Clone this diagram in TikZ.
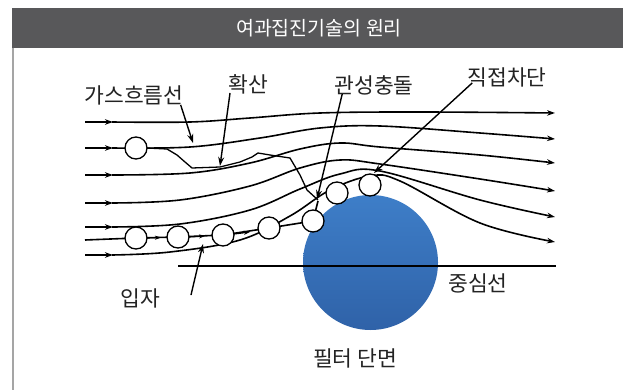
\documentclass[tikz,border=0pt]{standalone}
\usepackage{fontspec}
\newfontfamily\kr{Noto Sans CJK KR}
\usetikzlibrary{arrows.meta}
\definecolor{barfill}{RGB}{88,88,90}
\definecolor{rimgray}{RGB}{165,165,165}
\definecolor{cyltop}{RGB}{62,126,200}
\definecolor{cylbot}{RGB}{47,98,168}
\definecolor{inkgray}{RGB}{35,35,35}
\begin{document}
\begin{tikzpicture}[x=1pt,y=-1pt,
  flow/.style={line width=1.6pt, black, line join=round},
  flowend/.style={flow, -{Stealth[length=8pt,width=5.5pt]}},
  midtip/.style={line width=1.6pt, -{Stealth[length=8pt,width=5.5pt]}},
  smalltip/.style={line width=1.2pt, -{Stealth[length=6pt,width=4pt]}},
  pointer/.style={line width=1.4pt, black, -{Stealth[length=9pt,width=6pt]}},
  particle/.style={circle, draw=black, fill=white, line width=1.3pt, minimum size=22pt, inner sep=0pt},
  lbl/.style={text=inkgray, font=\kr\fontsize{21.5}{21.5}\selectfont, inner sep=1pt},
]
\useasboundingbox (0,0) rectangle (623,390);
\fill[white] (0,0) rectangle (623,390);

% header bar and frame
\fill[barfill] (12,8) rectangle (623,48);
\node[text=white, font=\kr\fontsize{19.5}{19.5}\selectfont] (title) at (319,28) {여과집진기술의 원리};
\draw[rimgray, line width=1.5pt] (13,48) -- (13,390);

% filter fibre cross-section and centre line
\shade[top color=cyltop, bottom color=cylbot] (370.5,262.5) circle[radius=67.5pt];
\draw[line width=1.1pt] (178,266) -- (556,266);

% gas streamlines
\foreach \yy in {122,148,175,203,227,255}
  \draw[midtip] (85,\yy) -- (113,\yy);
\draw[flowend] plot[smooth, tension=0.6] coordinates
  {(112,122) (190,122) (250,118) (320,113) (420,112) (555,113)};
\draw[flowend] plot[smooth, tension=0.6] coordinates
  {(112,148) (190,147) (260,138) (320,128) (380,126) (480,133) (555,139)};
\draw[flowend] plot[smooth, tension=0.6] coordinates
  {(112,175) (190,173) (250,163) (300,149) (340,143) (380,147) (480,155) (555,163)};
\draw[flowend] plot[smooth, tension=0.6] coordinates
  {(112,203) (180,200) (250,186) (300,168) (340,160) (380,164) (480,179) (555,191)};
\draw[flowend] plot[smooth, tension=0.6] coordinates
  {(112,227) (180,224) (250,210) (300,189) (340,174) (380,171) (480,200) (555,217)};
\draw[flowend] plot[smooth, tension=0.6] coordinates
  {(112,255) (170,252) (240,240) (290,216) (330,190) (370,176) (400,181) (480,223) (555,242)};

% particle path (inertial impaction)
\draw[flow] (85,240) -- (136,238) -- (178,237) -- (223,235) -- (269,228) -- (313,221) -- (318,201);
\draw[smalltip] (147,238) -- (161,237.5);
\draw[smalltip] (189,237) -- (205,236);
\draw[smalltip] (234,234) -- (250,232);

% diffusion path
\draw[line width=1.3pt, line join=round] (147,148) -- (167,149) -- (177,155) -- (185,162) -- (192,168)
  -- (220,167) -- (240,162) -- (252,157) -- (258,153) -- (270,155) -- (290,158)
  -- (300,175) -- (307,190) -- (318,200);

% particles
\node[particle] (pd) at (136,148) {};
\node[particle] (p1) at (136,238) {};
\node[particle] (p2) at (178,237) {};
\node[particle] (p3) at (223,235) {};
\node[particle] (p4) at (269,228) {};
\node[particle] (p5) at (313,221) {};
\node[particle] (p6) at (337,193) {};
\node[particle] (p7) at (370,185) {};

% labels
\node[lbl] (gas)  at (134,95)  {가스흐름선};
\node[lbl] (diff) at (248,84)  {확산};
\node[lbl] (imp)  at (374,85)  {관성충돌};
\node[lbl] (intc) at (507,77)  {직접차단};
\node[lbl] (part) at (140,298) {입자};
\node[lbl] (cent) at (478,283) {중심선};
\node[lbl] (sect) at (355,358) {필터 단면};

% pointers
\coordinate (tgas)  at (193,143);
\coordinate (tdiff) at (220,166);
\coordinate (timp)  at (317,199);
\coordinate (tintc) at (374,173);
\coordinate (tpart) at (203,244);
\draw[pointer] ([xshift=-4pt,yshift=1pt]gas.south east) -- (tgas);
\draw[pointer] ([xshift=3pt,yshift=2pt]diff.south west) -- (tdiff);
\draw[pointer] ([xshift=9pt,yshift=2pt]imp.south west) -- (timp);
\draw[pointer] ([xshift=6pt,yshift=5pt]intc.south west) -- (tintc);
\draw[pointer] ([xshift=30pt,yshift=-8pt]part.north east) -- (tpart);
\end{tikzpicture}
\end{document}
